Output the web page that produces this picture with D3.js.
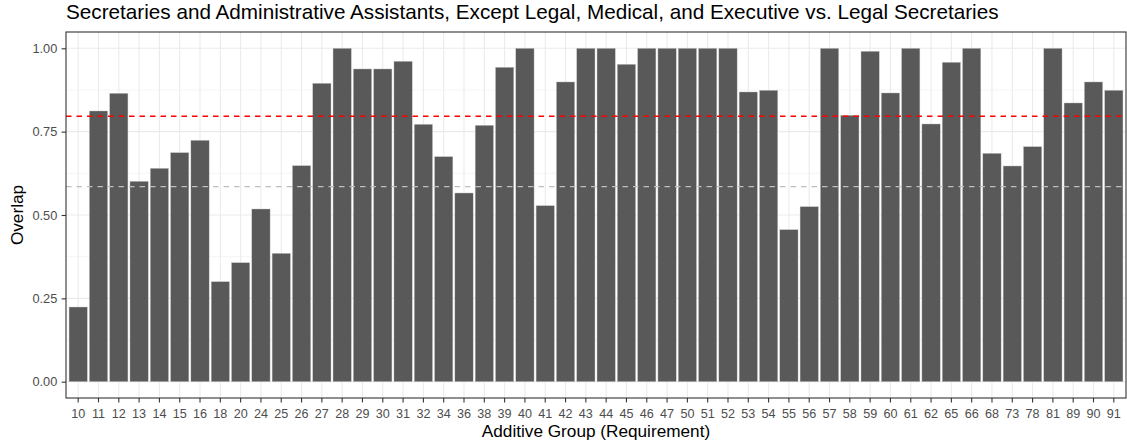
<!DOCTYPE html>
<html>
<head>
<meta charset="utf-8">
<script src="https://cdn.jsdelivr.net/npm/d3@7"></script>
<style>
  body { margin: 0; background: #fff; }
  svg { display: block; font-family: "Liberation Sans", Arial, Helvetica, sans-serif; }
</style>
</head>
<body>
<svg id="chart" width="1127" height="444"></svg>
<script>
const categories = ["10","11","12","13","14","15","16","18","20","24","25","26","27","28","29","30","31","32","34","36","38","39","40","41","42","43","44","45","46","47","50","51","52","53","54","55","56","57","58","59","60","61","62","65","66","68","73","78","81","89","90","91"];
const overlap = [0.224,0.812,0.865,0.601,0.640,0.687,0.724,0.300,0.357,0.518,0.385,0.648,0.895,1.0,0.938,0.938,0.961,0.772,0.675,0.566,0.769,0.943,1.0,0.528,0.899,1.0,1.0,0.952,1.0,1.0,1.0,1.0,1.0,0.869,0.874,0.456,0.525,1.0,0.799,0.991,0.866,1.0,0.773,0.958,1.0,0.685,0.647,0.705,1.0,0.836,0.899,0.874];
const yTicks = [0, 0.25, 0.5, 0.75, 1.0];
const yMinor = [0.125, 0.375, 0.625, 0.875];
const refLines = [{value: 0.796, color: "#ff0000"}, {value: 0.585, color: "#bebebe"}];
const titleText = "Secretaries and Administrative Assistants, Except Legal, Medical, and Executive vs. Legal Secretaries";
const xTitle = "Additive Group (Requirement)";
const yTitle = "Overlap";

const svg = d3.select("#chart");
const panel = {left: 66, right: 1126, top: 32, bottom: 398};

const x = d3.scaleBand().domain(categories).range([panel.left, panel.right]).paddingInner(0.1).paddingOuter(0.15);
const yTop = 48.3, yBottom = 381.7;
const y = d3.scaleLinear().domain([0, 1]).range([yBottom, yTop]);

// panel background
svg.append("rect").attr("x", panel.left).attr("y", panel.top)
  .attr("width", panel.right - panel.left).attr("height", panel.bottom - panel.top)
  .attr("fill", "#fff");

// minor grid
svg.append("g").selectAll("line").data(yMinor).join("line")
  .attr("x1", panel.left).attr("x2", panel.right)
  .attr("y1", d => y(d)).attr("y2", d => y(d))
  .attr("stroke", "#ebebeb").attr("stroke-width", 0.55);
// major grid
svg.append("g").selectAll("line").data(yTicks).join("line")
  .attr("x1", panel.left).attr("x2", panel.right)
  .attr("y1", d => y(d)).attr("y2", d => y(d))
  .attr("stroke", "#ebebeb").attr("stroke-width", 1.1);
svg.append("g").selectAll("line").data(categories).join("line")
  .attr("y1", panel.top).attr("y2", panel.bottom)
  .attr("x1", d => x(d) + x.bandwidth() / 2).attr("x2", d => x(d) + x.bandwidth() / 2)
  .attr("stroke", "#ebebeb").attr("stroke-width", 1.1);

// bars
svg.append("g").selectAll("rect").data(categories).join("rect")
  .attr("x", d => x(d))
  .attr("width", x.bandwidth())
  .attr("y", (d, i) => y(overlap[i]))
  .attr("height", (d, i) => y(0) - y(overlap[i]))
  .attr("fill", "#595959")
  .attr("stroke", "#c8c8c8").attr("stroke-width", 0.4);

// reference lines
svg.append("g").selectAll("line").data(refLines).join("line")
  .attr("x1", panel.left).attr("x2", panel.right)
  .attr("y1", d => y(d.value)).attr("y2", d => y(d.value))
  .attr("stroke", d => d.color).attr("stroke-width", 1.4)
  .attr("stroke-dasharray", "5.5,5");

// panel border
svg.append("rect").attr("x", panel.left).attr("y", panel.top)
  .attr("width", panel.right - panel.left).attr("height", panel.bottom - panel.top)
  .attr("fill", "none").attr("stroke", "#333333").attr("stroke-width", 1.1);

// y axis
const yAxis = d3.axisLeft(y).tickValues(yTicks).tickFormat(d3.format(".2f")).tickSize(4.4).tickPadding(4.3);
const gy = svg.append("g").attr("transform", `translate(${panel.left},0)`).call(yAxis);
gy.select(".domain").remove();
gy.selectAll(".tick line").attr("stroke", "#333333").attr("stroke-width", 1.1);
gy.selectAll(".tick text").attr("fill", "#4d4d4d").attr("font-size", 12.8).attr("font-family", null);

// x axis
const xAxis = d3.axisBottom(x).tickSize(4.4).tickPadding(6.4);
const gx = svg.append("g").attr("transform", `translate(0,${panel.bottom})`).call(xAxis);
gx.select(".domain").remove();
gx.selectAll(".tick line").attr("stroke", "#333333").attr("stroke-width", 1.1);
gx.selectAll(".tick text").attr("fill", "#4d4d4d").attr("font-size", 12.6).attr("font-family", null);

// titles
svg.append("text").attr("x", panel.left).attr("y", 19)
  .attr("font-size", 20.7).attr("fill", "#000").text(titleText);
svg.append("text").attr("x", (panel.left + panel.right) / 2).attr("y", 437.3)
  .attr("text-anchor", "middle").attr("font-size", 17.2).attr("fill", "#000").text(xTitle);
svg.append("text").attr("transform", `translate(22.5,${(panel.top + panel.bottom) / 2}) rotate(-90)`)
  .attr("text-anchor", "middle").attr("font-size", 17.2).attr("fill", "#000").text(yTitle);
</script>
</body>
</html>
